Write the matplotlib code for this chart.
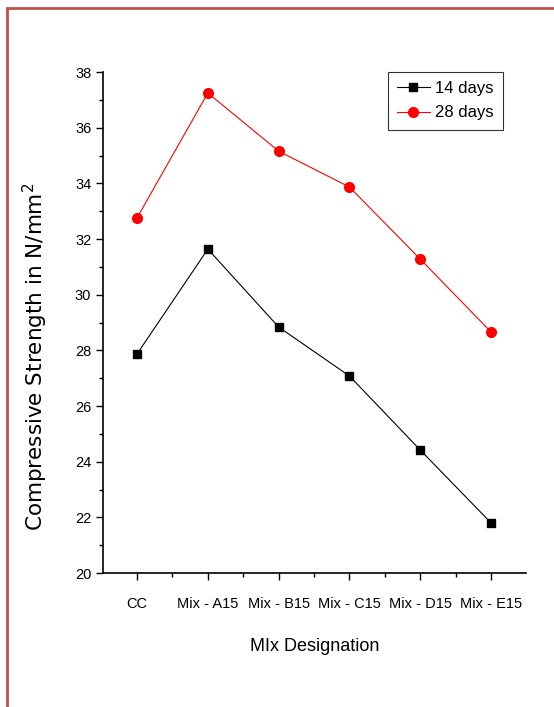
import matplotlib.pyplot as plt
from matplotlib.patches import Rectangle
from matplotlib.ticker import MultipleLocator

plt.rcParams['font.family'] = ['Liberation Sans', 'DejaVu Sans']

mixes = ["CC", "Mix - A15", "Mix - B15", "Mix - C15", "Mix - D15", "Mix - E15"]
days14 = [27.87, 31.64, 28.84, 27.08, 24.42, 21.80]
days28 = [32.76, 37.25, 35.16, 33.87, 31.28, 28.66]

fig = plt.figure(figsize=(5.54, 7.07), dpi=100)
ax = fig.add_axes([0.186, 0.1895, 0.763, 0.7085])

x = list(range(len(mixes)))
ax.plot(x, days14, color="black", lw=0.8, marker="s", ms=6, label="14 days")
ax.plot(x, days28, color="red", lw=0.8, marker="o", ms=7, label="28 days")

ax.set_xlim(-0.48, 5.49)
ax.set_ylim(20, 38)
ax.set_xticks(x)
ax.set_xticklabels(mixes, fontsize=10.5)
ax.xaxis.set_minor_locator(MultipleLocator(0.5))
ax.yaxis.set_major_locator(MultipleLocator(2))
ax.yaxis.set_minor_locator(MultipleLocator(1))
ax.tick_params(axis="y", labelsize=10.5)
ax.tick_params(which="major", direction="out", length=5, width=1)
ax.tick_params(which="minor", direction="out", length=3, width=1)
ax.tick_params(axis="x", which="major", pad=12)

for s in ["top", "right"]:
    ax.spines[s].set_visible(False)
for s in ["left", "bottom"]:
    ax.spines[s].set_linewidth(1.2)

ax.set_xlabel("MIx Designation", fontsize=13, labelpad=20)
ax.set_ylabel("Compressive Strength in N/mm$^2$", fontsize=15.5,
              family="DejaVu Sans")
ax.yaxis.set_label_coords(-0.125, 0.431)

leg = ax.legend(loc="upper right", bbox_to_anchor=(0.946, 1.0), borderaxespad=0,
                fontsize=12, fancybox=False, edgecolor="black", handlelength=2.0,
                handletextpad=0.3, borderpad=0.55, labelspacing=0.55)
leg.get_frame().set_linewidth(0.8)

# outer frame
fig.patches.append(Rectangle((7 / 554, -0.1), 1.2, 1 - 8 / 707 + 0.1,
                             transform=fig.transFigure, fill=False,
                             edgecolor="#C0504D", lw=2))

fig.savefig("out.png", dpi=100)
